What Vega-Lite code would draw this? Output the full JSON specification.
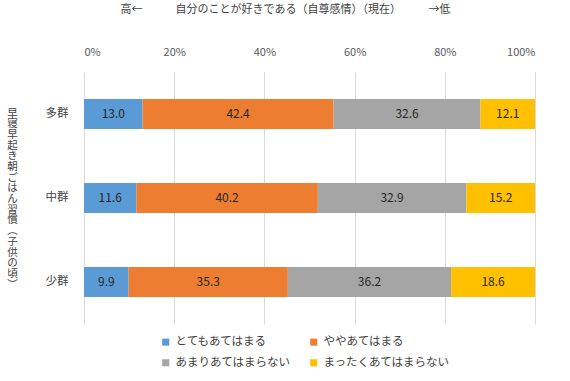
{
  "$schema": "https://vega.github.io/schema/vega-lite/v6.json",
  "autosize": {"type": "none"},
  "padding": {"left": 84, "top": 72, "right": 35, "bottom": 57},
  "width": 451,
  "height": 252,
  "background": "white",
  "title": {
    "text": "高←　　　自分のことが好きである（自尊感情）（現在）　　　→低",
    "fontSize": 11,
    "fontWeight": "normal",
    "color": "#404040",
    "font": "Noto Sans CJK JP",
    "anchor": "middle",
    "dx": -24,
    "offset": 31
  },
  "config": {
    "font": "Noto Sans CJK JP",
    "view": {"stroke": null}
  },
  "data": {
    "values": [
      {"group": "多群", "answer": "とてもあてはまる", "idx": 1, "value": 13.0},
      {"group": "多群", "answer": "ややあてはまる", "idx": 2, "value": 42.4},
      {"group": "多群", "answer": "あまりあてはまらない", "idx": 3, "value": 32.6},
      {"group": "多群", "answer": "まったくあてはまらない", "idx": 4, "value": 12.1},
      {"group": "中群", "answer": "とてもあてはまる", "idx": 1, "value": 11.6},
      {"group": "中群", "answer": "ややあてはまる", "idx": 2, "value": 40.2},
      {"group": "中群", "answer": "あまりあてはまらない", "idx": 3, "value": 32.9},
      {"group": "中群", "answer": "まったくあてはまらない", "idx": 4, "value": 15.2},
      {"group": "少群", "answer": "とてもあてはまる", "idx": 1, "value": 9.9},
      {"group": "少群", "answer": "ややあてはまる", "idx": 2, "value": 35.3},
      {"group": "少群", "answer": "あまりあてはまらない", "idx": 3, "value": 36.2},
      {"group": "少群", "answer": "まったくあてはまらない", "idx": 4, "value": 18.6}
    ]
  },
  "transform": [
    {"stack": "value", "groupby": ["group"], "sort": [{"field": "idx", "order": "ascending"}], "offset": "normalize", "as": ["x0", "x1"]},
    {"calculate": "(datum.x0 + datum.x1) / 2", "as": "xmid"}
  ],
  "encoding": {
    "y": {
      "field": "group",
      "type": "nominal",
      "scale": {"domain": ["多群", "中群", "少群"], "paddingInner": 0.64, "paddingOuter": 0.32},
      "axis": {
        "title": ["早", "寝", "早", "起", "き", "朝", "ご", "は", "ん", "習", "慣", "︵", "子", "供", "の", "頃", "︶"],
        "titleAngle": 0,
        "titleAlign": "center",
        "titleBaseline": "top",
        "titleX": -72,
        "titleY": 36,
        "titleFontSize": 10.5,
        "titleLineHeight": 10.7,
        "titleFontWeight": "normal",
        "titleColor": "#404040",
        "labelFontSize": 11.5,
        "labelColor": "#404040",
        "labelPadding": 16,
        "ticks": false,
        "domain": false
      }
    }
  },
  "layer": [
    {
      "mark": {"type": "bar"},
      "encoding": {
        "x": {
          "field": "x0",
          "type": "quantitative",
          "scale": {"domain": [0, 1], "nice": false},
          "axis": {
            "orient": "top",
            "title": null,
            "format": ".0%",
            "values": [0, 0.2, 0.4, 0.6, 0.8, 1],
            "grid": true,
            "gridColor": "#d9d9d9",
            "gridWidth": 1,
            "domain": false,
            "ticks": false,
            "labelPadding": 15,
            "labelFontSize": 11,
            "labelColor": "#595959"
          }
        },
        "x2": {"field": "x1"},
        "color": {
          "field": "answer",
          "type": "nominal",
          "scale": {
            "domain": ["とてもあてはまる", "ややあてはまる", "あまりあてはまらない", "まったくあてはまらない"],
            "range": ["#5B9BD5", "#ED7D31", "#A5A5A5", "#FFC000"]
          },
          "legend": {
            "orient": "none",
            "legendX": 76,
            "legendY": 264,
            "direction": "horizontal",
            "columns": 2,
            "title": null,
            "symbolType": "square",
            "symbolSize": 50,
            "symbolStrokeWidth": 0,
            "labelFontSize": 11.5,
            "labelColor": "#404040",
            "columnPadding": 17,
            "rowPadding": 8,
            "labelLimit": 200
          }
        }
      }
    },
    {
      "mark": {"type": "text", "fontSize": 12, "color": "#262626"},
      "encoding": {
        "x": {"field": "xmid", "type": "quantitative"},
        "text": {"field": "value", "type": "quantitative", "format": ".1f"}
      }
    }
  ]
}
